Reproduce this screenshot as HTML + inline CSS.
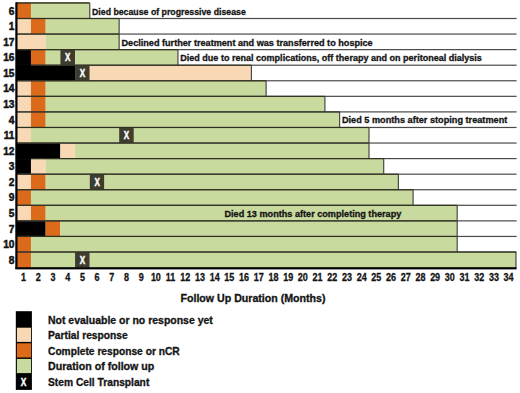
<!DOCTYPE html>
<html><head><meta charset="utf-8"><style>
html,body{margin:0;padding:0;background:#fff;}
body{width:520px;height:393px;overflow:hidden;}
svg{display:block;}
text{font-family:"Liberation Sans",sans-serif;font-weight:bold;fill:#141414;stroke:#141414;stroke-width:0.3px;}
.w{fill:#fff;stroke:#fff;stroke-width:0.45px;}
.yl{stroke-width:0.5px;}
</style></head><body>
<svg width="520" height="393" viewBox="0 0 520 393">
<rect x="16.27" y="2.93" width="14.7" height="15.57" fill="#DC6A1B"/>
<rect x="30.97" y="2.93" width="58.79" height="15.57" fill="#C9DA9E"/>
<rect x="89.16" y="2.93" width="1.2" height="15.57" fill="#4a4a4a"/>
<rect x="16.27" y="18.5" width="14.7" height="15.57" fill="#F9D8B6"/>
<rect x="30.97" y="18.5" width="14.7" height="15.57" fill="#DC6A1B"/>
<rect x="45.66" y="18.5" width="73.48" height="15.57" fill="#C9DA9E"/>
<rect x="118.55" y="18.5" width="1.2" height="15.57" fill="#4a4a4a"/>
<rect x="16.27" y="34.06" width="29.39" height="15.57" fill="#F9D8B6"/>
<rect x="45.66" y="34.06" width="73.48" height="15.57" fill="#C9DA9E"/>
<rect x="118.55" y="34.06" width="1.2" height="15.57" fill="#4a4a4a"/>
<rect x="16.27" y="49.63" width="14.7" height="15.57" fill="#000000"/>
<rect x="30.97" y="49.63" width="14.7" height="15.57" fill="#DC6A1B"/>
<rect x="45.66" y="49.63" width="14.7" height="15.57" fill="#C9DA9E"/>
<rect x="60.36" y="49.63" width="14.7" height="15.57" fill="#3E3D2D"/>
<rect x="75.06" y="49.63" width="102.88" height="15.57" fill="#C9DA9E"/>
<rect x="177.34" y="49.63" width="1.2" height="15.57" fill="#4a4a4a"/>
<rect x="16.27" y="65.2" width="58.79" height="15.57" fill="#000000"/>
<rect x="75.06" y="65.2" width="14.7" height="15.57" fill="#3E3D2D"/>
<rect x="89.75" y="65.2" width="161.67" height="15.57" fill="#F9D8B6"/>
<rect x="250.82" y="65.2" width="1.2" height="15.57" fill="#4a4a4a"/>
<rect x="16.27" y="80.77" width="14.7" height="15.57" fill="#F9D8B6"/>
<rect x="30.97" y="80.77" width="14.7" height="15.57" fill="#DC6A1B"/>
<rect x="45.66" y="80.77" width="220.45" height="15.57" fill="#C9DA9E"/>
<rect x="265.52" y="80.77" width="1.2" height="15.57" fill="#4a4a4a"/>
<rect x="16.27" y="96.33" width="14.7" height="15.57" fill="#F9D8B6"/>
<rect x="30.97" y="96.33" width="14.7" height="15.57" fill="#DC6A1B"/>
<rect x="45.66" y="96.33" width="279.24" height="15.57" fill="#C9DA9E"/>
<rect x="324.31" y="96.33" width="1.2" height="15.57" fill="#4a4a4a"/>
<rect x="16.27" y="111.9" width="14.7" height="15.57" fill="#F9D8B6"/>
<rect x="30.97" y="111.9" width="14.7" height="15.57" fill="#DC6A1B"/>
<rect x="45.66" y="111.9" width="293.94" height="15.57" fill="#C9DA9E"/>
<rect x="339" y="111.9" width="1.2" height="15.57" fill="#4a4a4a"/>
<rect x="16.27" y="127.47" width="14.7" height="15.57" fill="#F9D8B6"/>
<rect x="30.97" y="127.47" width="88.18" height="15.57" fill="#C9DA9E"/>
<rect x="119.15" y="127.47" width="14.7" height="15.57" fill="#3E3D2D"/>
<rect x="133.85" y="127.47" width="235.15" height="15.57" fill="#C9DA9E"/>
<rect x="368.4" y="127.47" width="1.2" height="15.57" fill="#4a4a4a"/>
<rect x="16.27" y="143.03" width="44.09" height="15.57" fill="#000000"/>
<rect x="60.36" y="143.03" width="14.7" height="15.57" fill="#F9D8B6"/>
<rect x="75.06" y="143.03" width="293.94" height="15.57" fill="#C9DA9E"/>
<rect x="368.4" y="143.03" width="1.2" height="15.57" fill="#4a4a4a"/>
<rect x="16.27" y="158.6" width="14.7" height="15.57" fill="#000000"/>
<rect x="30.97" y="158.6" width="14.7" height="15.57" fill="#F9D8B6"/>
<rect x="45.66" y="158.6" width="338.03" height="15.57" fill="#C9DA9E"/>
<rect x="383.09" y="158.6" width="1.2" height="15.57" fill="#4a4a4a"/>
<rect x="16.27" y="174.17" width="14.7" height="15.57" fill="#F9D8B6"/>
<rect x="30.97" y="174.17" width="14.7" height="15.57" fill="#DC6A1B"/>
<rect x="45.66" y="174.17" width="44.09" height="15.57" fill="#C9DA9E"/>
<rect x="89.75" y="174.17" width="14.7" height="15.57" fill="#3E3D2D"/>
<rect x="104.45" y="174.17" width="293.94" height="15.57" fill="#C9DA9E"/>
<rect x="397.79" y="174.17" width="1.2" height="15.57" fill="#4a4a4a"/>
<rect x="16.27" y="189.73" width="14.7" height="15.57" fill="#DC6A1B"/>
<rect x="30.97" y="189.73" width="382.12" height="15.57" fill="#C9DA9E"/>
<rect x="412.49" y="189.73" width="1.2" height="15.57" fill="#4a4a4a"/>
<rect x="16.27" y="205.3" width="14.7" height="15.57" fill="#F9D8B6"/>
<rect x="30.97" y="205.3" width="14.7" height="15.57" fill="#DC6A1B"/>
<rect x="45.66" y="205.3" width="411.52" height="15.57" fill="#C9DA9E"/>
<rect x="456.58" y="205.3" width="1.2" height="15.57" fill="#4a4a4a"/>
<rect x="16.27" y="220.87" width="29.39" height="15.57" fill="#000000"/>
<rect x="45.66" y="220.87" width="14.7" height="15.57" fill="#DC6A1B"/>
<rect x="60.36" y="220.87" width="396.82" height="15.57" fill="#C9DA9E"/>
<rect x="456.58" y="220.87" width="1.2" height="15.57" fill="#4a4a4a"/>
<rect x="16.27" y="236.44" width="14.7" height="15.57" fill="#DC6A1B"/>
<rect x="30.97" y="236.44" width="426.21" height="15.57" fill="#C9DA9E"/>
<rect x="456.58" y="236.44" width="1.2" height="15.57" fill="#4a4a4a"/>
<rect x="16.27" y="252" width="14.7" height="15.57" fill="#DC6A1B"/>
<rect x="30.97" y="252" width="44.09" height="15.57" fill="#C9DA9E"/>
<rect x="75.06" y="252" width="14.7" height="15.57" fill="#3E3D2D"/>
<rect x="89.75" y="252" width="426.21" height="15.57" fill="#C9DA9E"/>
<rect x="515.37" y="252" width="1.2" height="15.57" fill="#4a4a4a"/>
<rect x="16.27" y="2.18" width="73.48" height="1.5" fill="#30301e"/>
<rect x="16.27" y="17.9" width="500.33" height="1.2" fill="#4a4a4a"/>
<rect x="16.27" y="17.95" width="102.88" height="1.1" fill="#30301e"/>
<rect x="16.27" y="33.46" width="500.33" height="1.2" fill="#4a4a4a"/>
<rect x="16.27" y="33.51" width="102.88" height="1.1" fill="#30301e"/>
<rect x="16.27" y="49.03" width="500.33" height="1.2" fill="#4a4a4a"/>
<rect x="16.27" y="49.08" width="161.67" height="1.1" fill="#30301e"/>
<rect x="16.27" y="64.6" width="500.33" height="1.2" fill="#4a4a4a"/>
<rect x="16.27" y="64.65" width="235.15" height="1.1" fill="#30301e"/>
<rect x="16.27" y="80.17" width="500.33" height="1.2" fill="#4a4a4a"/>
<rect x="16.27" y="80.22" width="249.85" height="1.1" fill="#30301e"/>
<rect x="16.27" y="95.73" width="500.33" height="1.2" fill="#4a4a4a"/>
<rect x="16.27" y="95.78" width="308.64" height="1.1" fill="#30301e"/>
<rect x="16.27" y="111.3" width="500.33" height="1.2" fill="#4a4a4a"/>
<rect x="16.27" y="111.35" width="323.33" height="1.1" fill="#30301e"/>
<rect x="16.27" y="126.87" width="500.33" height="1.2" fill="#4a4a4a"/>
<rect x="16.27" y="126.92" width="352.73" height="1.1" fill="#30301e"/>
<rect x="16.27" y="142.43" width="500.33" height="1.2" fill="#4a4a4a"/>
<rect x="16.27" y="142.48" width="352.73" height="1.1" fill="#30301e"/>
<rect x="16.27" y="158" width="500.33" height="1.2" fill="#4a4a4a"/>
<rect x="16.27" y="158.05" width="367.42" height="1.1" fill="#30301e"/>
<rect x="16.27" y="173.57" width="500.33" height="1.2" fill="#4a4a4a"/>
<rect x="16.27" y="173.62" width="382.12" height="1.1" fill="#30301e"/>
<rect x="16.27" y="189.13" width="500.33" height="1.2" fill="#4a4a4a"/>
<rect x="16.27" y="189.18" width="396.82" height="1.1" fill="#30301e"/>
<rect x="16.27" y="204.7" width="500.33" height="1.2" fill="#4a4a4a"/>
<rect x="16.27" y="204.75" width="440.91" height="1.1" fill="#30301e"/>
<rect x="16.27" y="220.27" width="500.33" height="1.2" fill="#4a4a4a"/>
<rect x="16.27" y="220.32" width="440.91" height="1.1" fill="#30301e"/>
<rect x="16.27" y="235.84" width="500.33" height="1.2" fill="#4a4a4a"/>
<rect x="16.27" y="235.88" width="440.91" height="1.1" fill="#30301e"/>
<rect x="16.27" y="251.4" width="500.33" height="1.2" fill="#4a4a4a"/>
<rect x="16.27" y="251.45" width="499.7" height="1.1" fill="#30301e"/>
<rect x="16.27" y="64.2" width="14.7" height="2" fill="#000"/>
<rect x="16.27" y="157.6" width="14.7" height="2" fill="#000"/>
<rect x="15.3" y="2.33" width="2.2" height="266.44" fill="#000"/>
<rect x="15.3" y="267.17" width="501.3" height="2.2" fill="#000"/>
<text class="w" x="67.71" y="61.16" font-size="10.1" text-anchor="middle" transform="translate(67.71 0) scale(0.8 1) translate(-67.71 0)">X</text>
<text class="w" x="82.41" y="76.73" font-size="10.1" text-anchor="middle" transform="translate(82.41 0) scale(0.8 1) translate(-82.41 0)">X</text>
<text class="w" x="126.5" y="139" font-size="10.1" text-anchor="middle" transform="translate(126.5 0) scale(0.8 1) translate(-126.5 0)">X</text>
<text class="w" x="97.1" y="185.7" font-size="10.1" text-anchor="middle" transform="translate(97.1 0) scale(0.8 1) translate(-97.1 0)">X</text>
<text class="w" x="82.41" y="263.54" font-size="10.1" text-anchor="middle" transform="translate(82.41 0) scale(0.8 1) translate(-82.41 0)">X</text>
<text class="yl" x="14.5" y="14.61" font-size="10.2" text-anchor="end">6</text>
<text class="yl" x="14.5" y="30.18" font-size="10.2" text-anchor="end">1</text>
<text class="yl" x="14.5" y="45.75" font-size="10.2" text-anchor="end">17</text>
<text class="yl" x="14.5" y="61.31" font-size="10.2" text-anchor="end">16</text>
<text class="yl" x="14.5" y="76.88" font-size="10.2" text-anchor="end">15</text>
<text class="yl" x="14.5" y="92.45" font-size="10.2" text-anchor="end">14</text>
<text class="yl" x="14.5" y="108.02" font-size="10.2" text-anchor="end">13</text>
<text class="yl" x="14.5" y="123.58" font-size="10.2" text-anchor="end">4</text>
<text class="yl" x="14.5" y="139.15" font-size="10.2" text-anchor="end">11</text>
<text class="yl" x="14.5" y="154.72" font-size="10.2" text-anchor="end">12</text>
<text class="yl" x="14.5" y="170.28" font-size="10.2" text-anchor="end">3</text>
<text class="yl" x="14.5" y="185.85" font-size="10.2" text-anchor="end">2</text>
<text class="yl" x="14.5" y="201.42" font-size="10.2" text-anchor="end">9</text>
<text class="yl" x="14.5" y="216.98" font-size="10.2" text-anchor="end">5</text>
<text class="yl" x="14.5" y="232.55" font-size="10.2" text-anchor="end">7</text>
<text class="yl" x="14.5" y="248.12" font-size="10.2" text-anchor="end">10</text>
<text class="yl" x="14.5" y="263.69" font-size="10.2" text-anchor="end">8</text>
<text x="23.62" y="280.7" font-size="10" text-anchor="middle" transform="translate(23.62 0) scale(0.9 1) translate(-23.62 0)">1</text>
<text x="38.32" y="280.7" font-size="10" text-anchor="middle" transform="translate(38.32 0) scale(0.9 1) translate(-38.32 0)">2</text>
<text x="53.01" y="280.7" font-size="10" text-anchor="middle" transform="translate(53.01 0) scale(0.9 1) translate(-53.01 0)">3</text>
<text x="67.71" y="280.7" font-size="10" text-anchor="middle" transform="translate(67.71 0) scale(0.9 1) translate(-67.71 0)">4</text>
<text x="82.41" y="280.7" font-size="10" text-anchor="middle" transform="translate(82.41 0) scale(0.9 1) translate(-82.41 0)">5</text>
<text x="97.1" y="280.7" font-size="10" text-anchor="middle" transform="translate(97.1 0) scale(0.9 1) translate(-97.1 0)">6</text>
<text x="111.8" y="280.7" font-size="10" text-anchor="middle" transform="translate(111.8 0) scale(0.9 1) translate(-111.8 0)">7</text>
<text x="126.5" y="280.7" font-size="10" text-anchor="middle" transform="translate(126.5 0) scale(0.9 1) translate(-126.5 0)">8</text>
<text x="141.19" y="280.7" font-size="10" text-anchor="middle" transform="translate(141.19 0) scale(0.9 1) translate(-141.19 0)">9</text>
<text x="155.89" y="280.7" font-size="10" text-anchor="middle" transform="translate(155.89 0) scale(0.9 1) translate(-155.89 0)">10</text>
<text x="170.59" y="280.7" font-size="10" text-anchor="middle" transform="translate(170.59 0) scale(0.9 1) translate(-170.59 0)">11</text>
<text x="185.29" y="280.7" font-size="10" text-anchor="middle" transform="translate(185.29 0) scale(0.9 1) translate(-185.29 0)">12</text>
<text x="199.98" y="280.7" font-size="10" text-anchor="middle" transform="translate(199.98 0) scale(0.9 1) translate(-199.98 0)">13</text>
<text x="214.68" y="280.7" font-size="10" text-anchor="middle" transform="translate(214.68 0) scale(0.9 1) translate(-214.68 0)">14</text>
<text x="229.38" y="280.7" font-size="10" text-anchor="middle" transform="translate(229.38 0) scale(0.9 1) translate(-229.38 0)">15</text>
<text x="244.07" y="280.7" font-size="10" text-anchor="middle" transform="translate(244.07 0) scale(0.9 1) translate(-244.07 0)">16</text>
<text x="258.77" y="280.7" font-size="10" text-anchor="middle" transform="translate(258.77 0) scale(0.9 1) translate(-258.77 0)">17</text>
<text x="273.47" y="280.7" font-size="10" text-anchor="middle" transform="translate(273.47 0) scale(0.9 1) translate(-273.47 0)">18</text>
<text x="288.16" y="280.7" font-size="10" text-anchor="middle" transform="translate(288.16 0) scale(0.9 1) translate(-288.16 0)">19</text>
<text x="302.86" y="280.7" font-size="10" text-anchor="middle" transform="translate(302.86 0) scale(0.9 1) translate(-302.86 0)">20</text>
<text x="317.56" y="280.7" font-size="10" text-anchor="middle" transform="translate(317.56 0) scale(0.9 1) translate(-317.56 0)">21</text>
<text x="332.26" y="280.7" font-size="10" text-anchor="middle" transform="translate(332.26 0) scale(0.9 1) translate(-332.26 0)">22</text>
<text x="346.95" y="280.7" font-size="10" text-anchor="middle" transform="translate(346.95 0) scale(0.9 1) translate(-346.95 0)">23</text>
<text x="361.65" y="280.7" font-size="10" text-anchor="middle" transform="translate(361.65 0) scale(0.9 1) translate(-361.65 0)">24</text>
<text x="376.35" y="280.7" font-size="10" text-anchor="middle" transform="translate(376.35 0) scale(0.9 1) translate(-376.35 0)">25</text>
<text x="391.04" y="280.7" font-size="10" text-anchor="middle" transform="translate(391.04 0) scale(0.9 1) translate(-391.04 0)">26</text>
<text x="405.74" y="280.7" font-size="10" text-anchor="middle" transform="translate(405.74 0) scale(0.9 1) translate(-405.74 0)">27</text>
<text x="420.44" y="280.7" font-size="10" text-anchor="middle" transform="translate(420.44 0) scale(0.9 1) translate(-420.44 0)">28</text>
<text x="435.13" y="280.7" font-size="10" text-anchor="middle" transform="translate(435.13 0) scale(0.9 1) translate(-435.13 0)">29</text>
<text x="449.83" y="280.7" font-size="10" text-anchor="middle" transform="translate(449.83 0) scale(0.9 1) translate(-449.83 0)">30</text>
<text x="464.53" y="280.7" font-size="10" text-anchor="middle" transform="translate(464.53 0) scale(0.9 1) translate(-464.53 0)">31</text>
<text x="479.23" y="280.7" font-size="10" text-anchor="middle" transform="translate(479.23 0) scale(0.9 1) translate(-479.23 0)">32</text>
<text x="493.92" y="280.7" font-size="10" text-anchor="middle" transform="translate(493.92 0) scale(0.9 1) translate(-493.92 0)">33</text>
<text x="508.62" y="280.7" font-size="10" text-anchor="middle" transform="translate(508.62 0) scale(0.9 1) translate(-508.62 0)">34</text>
<text x="92" y="14.7" font-size="8.9" textLength="153.8" lengthAdjust="spacingAndGlyphs">Died because of progressive disease</text>
<text x="121.5" y="45.5" font-size="8.9" textLength="251.2" lengthAdjust="spacingAndGlyphs">Declined further treatment and was transferred to hospice</text>
<text x="180.25" y="60.8" font-size="8.9" textLength="301.65" lengthAdjust="spacingAndGlyphs">Died due to renal complications, off therapy and on peritoneal dialysis</text>
<text x="341.9" y="123.4" font-size="8.9" textLength="165.4" lengthAdjust="spacingAndGlyphs">Died 5 months after stoping treatment</text>
<text x="224.5" y="216.8" font-size="8.9" textLength="176.8" lengthAdjust="spacingAndGlyphs">Died 13 months after completing therapy</text>
<text x="180.5" y="302.2" font-size="10.2" textLength="145" lengthAdjust="spacingAndGlyphs">Follow Up Duration (Months)</text>
<text x="48" y="323.5" font-size="10.2" textLength="164.8" lengthAdjust="spacingAndGlyphs">Not evaluable or no response yet</text>
<text x="48" y="339" font-size="10.2" textLength="79.7" lengthAdjust="spacingAndGlyphs">Partial response</text>
<text x="48" y="354.8" font-size="10.2" textLength="131.7" lengthAdjust="spacingAndGlyphs">Complete response or nCR</text>
<text x="48" y="370.2" font-size="10.2" textLength="106.3" lengthAdjust="spacingAndGlyphs">Duration of follow up</text>
<text x="48" y="385.6" font-size="10.2" textLength="101.3" lengthAdjust="spacingAndGlyphs">Stem Cell Transplant</text>
<rect x="15.8" y="311.2" width="16.1" height="78.7" fill="#000"/>
<rect x="16.9" y="327.7" width="14.15" height="14.2" fill="#F9D8B6"/>
<rect x="16.9" y="343.3" width="14.15" height="14.2" fill="#DC6A1B"/>
<rect x="16.9" y="358.9" width="14.15" height="14.2" fill="#C9DA9E"/>
<text class="w" x="23.6" y="385.85" font-size="10.4" text-anchor="middle" transform="translate(23.6 0) scale(0.8 1) translate(-23.6 0)">X</text>
</svg></body></html>
